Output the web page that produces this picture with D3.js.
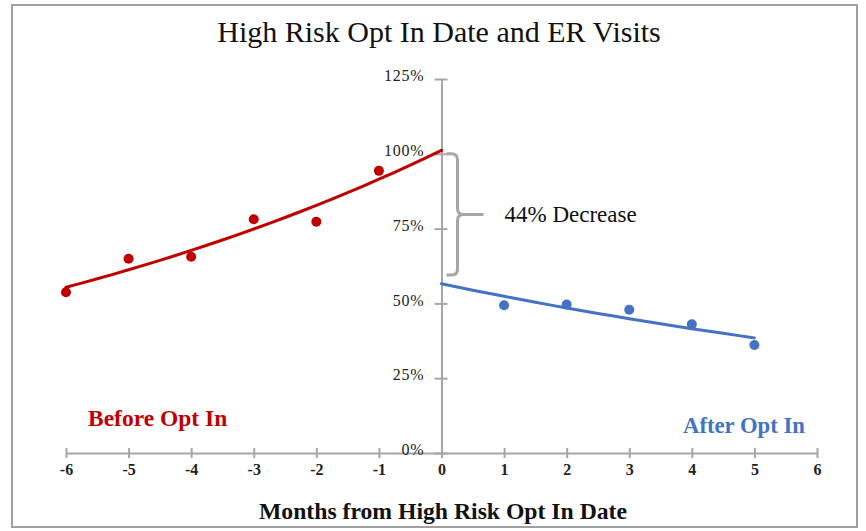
<!DOCTYPE html>
<html>
<head>
<meta charset="utf-8">
<script src="https://cdn.jsdelivr.net/npm/d3@7"></script>
<style>
  html, body { margin: 0; padding: 0; background: #fff; }
  svg { display: block; }
</style>
</head>
<body>
<svg id="chart" width="866" height="531"></svg>
<script>
// ---- data ----
const beforeMonths = [-6, -5, -4, -3, -2, -1];
const beforeValues = [53.7, 64.9, 65.6, 78.1, 77.3, 94.3];
const afterMonths = [1, 2, 3, 4, 5];
const afterValues = [49.4, 49.6, 47.9, 43.0, 36.1];
const xTickValues = [-6, -5, -4, -3, -2, -1, 0, 1, 2, 3, 4, 5, 6];
const yTickValues = [0, 25, 50, 75, 100, 125];
const braceRange = [59.5, 100];        // bracket from / to (percent)
const braceLabel = "44% Decrease";
const chartTitle = "High Risk Opt In Date and ER Visits";
const xAxisTitle = "Months from High Risk Opt In Date";
const beforeLabel = "Before Opt In";
const afterLabel = "After Opt In";

// ---- layout ----
const SERIF = "'Liberation Serif', 'DejaVu Serif', serif";
const svg = d3.select("#chart");
const x = d3.scaleLinear().domain([-6, 6]).range([66, 817]);
const y = d3.scaleLinear().domain([0, 125]).range([453, 79]);
const RED = "#C00000", BLUE = "#4472C4", AXIS = "#A6A6A6";

// frame
svg.append("rect").attr("x", 12).attr("y", 5).attr("width", 845).attr("height", 522)
  .attr("fill", "#fff").attr("stroke", "#A0A0A0").attr("stroke-width", 2);

// title
svg.append("text").attr("x", 439).attr("y", 42).attr("text-anchor", "middle")
  .style("font-family", SERIF).attr("font-size", 30).attr("fill", "#111").text(chartTitle);

// x axis
const xAxis = d3.axisBottom(x).tickValues(xTickValues).tickFormat(d => String(d))
  .tickSizeInner(0).tickSizeOuter(0).tickPadding(0);
const gx = svg.append("g").attr("transform", `translate(0,${y(0)})`).call(xAxis);
gx.select(".domain").attr("stroke", AXIS).attr("stroke-width", 2);
gx.selectAll(".tick line").attr("y1", -5).attr("y2", 5).attr("stroke", AXIS).attr("stroke-width", 2);
gx.selectAll(".tick text").attr("y", 17).attr("dy", "0.32em").attr("font-size", 16)
  .attr("font-weight", "bold").attr("fill", "#222").style("font-family", SERIF);

// y axis at x = 0
const yAxis = d3.axisLeft(y).tickValues(yTickValues).tickFormat(d => d + "%")
  .tickSizeInner(0).tickSizeOuter(0).tickPadding(0);
const gy = svg.append("g").attr("transform", `translate(${x(0)},0)`).call(yAxis);
gy.select(".domain").attr("stroke", AXIS).attr("stroke-width", 2);
gy.selectAll(".tick line").attr("x1", -7).attr("x2", 6).attr("stroke", AXIS).attr("stroke-width", 2);
gy.selectAll(".tick text").attr("x", -17).attr("dy", "0.1em").attr("font-size", 16)
  .attr("fill", "#222").attr("letter-spacing", 0.8).style("font-family", SERIF);

// exponential trend lines (least squares on log values, as in the source spreadsheet)
function expFit(xs, ys) {
  const ls = ys.map(v => Math.log(v));
  const mx = d3.mean(xs), ml = d3.mean(ls);
  let sxy = 0, sxx = 0;
  xs.forEach((xv, i) => { sxy += (xv - mx) * (ls[i] - ml); sxx += (xv - mx) ** 2; });
  const b = sxy / sxx, a = ml - b * mx;
  return t => Math.exp(a + b * t);
}
const redFit = expFit(beforeMonths, beforeValues);
const blueFit = expFit(afterMonths, afterValues);
const line = d3.line().x(d => x(d[0])).y(d => y(d[1])).curve(d3.curveMonotoneX);
const redTrend = d3.range(-6, 0.001, 0.25).map(t => [t, redFit(t)]);
const blueTrend = d3.range(0, 5.001, 0.25).map(t => [t, blueFit(t)]);

svg.append("path").datum(redTrend).attr("d", line).attr("fill", "none")
  .attr("stroke", RED).attr("stroke-width", 3).attr("stroke-linecap", "round");
svg.append("path").datum(blueTrend).attr("d", line).attr("fill", "none")
  .attr("stroke", BLUE).attr("stroke-width", 3).attr("stroke-linecap", "round");

// points
svg.append("g").selectAll("circle").data(beforeMonths.map((m, i) => [m, beforeValues[i]]))
  .join("circle").attr("cx", d => x(d[0])).attr("cy", d => y(d[1])).attr("r", 5).attr("fill", RED);
svg.append("g").selectAll("circle").data(afterMonths.map((m, i) => [m, afterValues[i]]))
  .join("circle").attr("cx", d => x(d[0])).attr("cy", d => y(d[1])).attr("r", 5).attr("fill", BLUE);

// brace annotation
const bx = x(0) + 16, bTop = y(braceRange[1]), bBot = y(braceRange[0]);
const bMid = (bTop + bBot) / 2, r = 6;
const p = d3.path();
p.moveTo(x(0) + 5, bTop);
p.lineTo(bx - r, bTop);
p.quadraticCurveTo(bx, bTop, bx, bTop + r);
p.lineTo(bx, bMid - r);
p.quadraticCurveTo(bx, bMid, bx + r, bMid);
p.lineTo(bx + 26, bMid);
p.moveTo(bx + r, bMid);
p.quadraticCurveTo(bx, bMid, bx, bMid + r);
p.lineTo(bx, bBot - r);
p.quadraticCurveTo(bx, bBot, bx - r, bBot);
p.lineTo(x(0) + 5, bBot);
svg.append("path").attr("d", p.toString()).attr("fill", "none")
  .attr("stroke", AXIS).attr("stroke-width", 3);
svg.append("text").attr("x", bx + 47).attr("y", bMid).attr("dy", "0.35em")
  .style("font-family", SERIF).attr("font-size", 23).attr("fill", "#111").text(braceLabel);

// series labels
svg.append("text").attr("x", 88).attr("y", 418).attr("dy", "0.35em").style("font-family", SERIF)
  .attr("font-size", 23.5).attr("font-weight", "bold").attr("fill", RED).text(beforeLabel);
svg.append("text").attr("x", 683).attr("y", 425).attr("dy", "0.35em").style("font-family", SERIF)
  .attr("font-size", 22.7).attr("font-weight", "bold").attr("fill", BLUE).text(afterLabel);

// x axis title
svg.append("text").attr("x", 443).attr("y", 511).attr("dy", "0.35em").attr("text-anchor", "middle")
  .style("font-family", SERIF).attr("font-size", 23.7).attr("font-weight", "bold")
  .attr("fill", "#111").text(xAxisTitle);
</script>
</body>
</html>
